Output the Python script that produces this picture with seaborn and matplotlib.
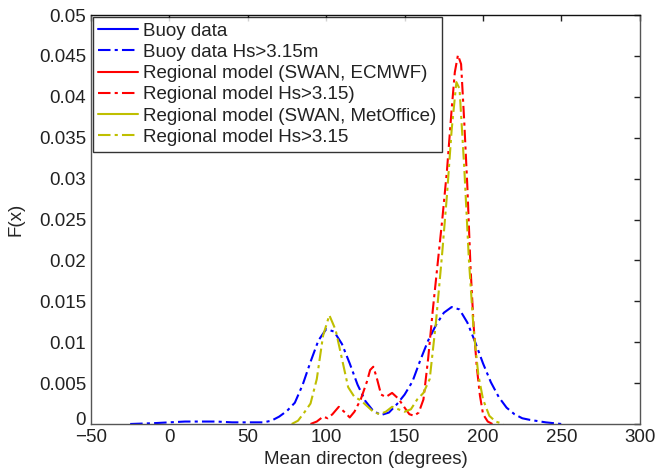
import seaborn as sns
import matplotlib.pyplot as plt
import matplotlib.transforms as mtransforms
import pandas as pd

# buoy data Hs>3.15m (blue dash-dot)
buoy_x = [-25, -10, 0, 10, 20, 30, 40, 50, 60, 65, 70, 75, 80, 85, 90, 95, 100,
          105, 110, 115, 120, 125, 130, 135, 140, 145, 150, 155, 160, 165, 170,
          175, 180, 185, 190, 195, 200, 205, 210, 215, 220, 225, 230, 240, 250]
buoy_y = [0, 0.0001, 0.0002, 0.0003, 0.0003, 0.0003, 0.0002, 0.0002, 0.0002,
          0.0004, 0.0009, 0.0016, 0.0026, 0.0048, 0.0076, 0.0102, 0.0116,
          0.0113, 0.0098, 0.0074, 0.0048, 0.0028, 0.0016, 0.0011, 0.0014,
          0.0024, 0.0036, 0.0052, 0.0078, 0.0102, 0.0121, 0.0136, 0.0143,
          0.0140, 0.0124, 0.0100, 0.0074, 0.0051, 0.0033, 0.0020, 0.0012,
          0.0007, 0.0005, 0.0002, 0]

# regional model SWAN/ECMWF Hs>3.15 (red dash-dot)
ecmwf_x = [90, 94, 98, 101, 104, 108, 112, 115, 118, 122, 126, 128, 130, 132,
           135, 138, 142, 146, 150, 153, 156, 159, 162, 165, 168, 171, 174, 177,
           180, 182, 184, 186, 188, 190, 192, 194, 196, 198, 200, 203, 206]
ecmwf_y = [0, 0.0003, 0.0009, 0.0007, 0.0012, 0.0021, 0.0014, 0.0008, 0.0015,
           0.0030, 0.0052, 0.0066, 0.0070, 0.0058, 0.0036, 0.0033, 0.0038,
           0.0031, 0.0020, 0.0012, 0.0010, 0.0014, 0.0030, 0.0080, 0.0140,
           0.0195, 0.0250, 0.0310, 0.0385, 0.0430, 0.0451, 0.0440, 0.0370,
           0.0290, 0.0192, 0.0120, 0.0070, 0.0035, 0.0012, 0.0003, 0]

# regional model SWAN/MetOffice Hs>3.15 (yellow dash-dot)
metoff_x = [78, 82, 86, 90, 94, 98, 102, 106, 110, 114, 118, 122, 126, 130, 134,
            138, 142, 146, 150, 154, 158, 162, 166, 170, 174, 177, 180, 183, 185,
            188, 191, 194, 197, 200, 204, 208, 213]
metoff_y = [0, 0.0004, 0.0014, 0.0025, 0.0055, 0.0108, 0.0133, 0.0115, 0.0080,
            0.0045, 0.0033, 0.0029, 0.0022, 0.0015, 0.0012, 0.0015, 0.0021,
            0.0018, 0.0015, 0.0018, 0.0030, 0.0038, 0.0055, 0.0125, 0.0210,
            0.0280, 0.0360, 0.0418, 0.0410, 0.0314, 0.0200, 0.0115, 0.0060,
            0.0030, 0.0010, 0.0003, 0]

labels = ['Buoy data', 'Buoy data Hs>3.15m', 'Regional model (SWAN, ECMWF)',
          'Regional model Hs>3.15)', 'Regional model (SWAN, MetOffice)',
          'Regional model Hs>3.15']

sns.set_style('white')
plt.rcParams['font.family'] = ['Liberation Sans', 'DejaVu Sans']
plt.rcParams['text.color'] = '#222222'
plt.rcParams['xtick.color'] = '#222222'
plt.rcParams['ytick.color'] = '#222222'

blue, red, yel = '#0000ff', '#ff0000', '#bfbf00'
dashdot = (0, (6, 2, 1.5, 2))

fig = plt.figure(figsize=(6.59, 4.72), dpi=100)
ax = fig.add_axes([0.138, 0.1017, 0.833, 0.8665])

# solid series only appear in the legend
ax.plot([], [], color=blue, lw=1.5, label=labels[0])
sns.lineplot(x=buoy_x, y=buoy_y, ax=ax, color=blue, lw=1.5, linestyle=dashdot, label=labels[1])
ax.plot([], [], color=red, lw=1.5, label=labels[2])
sns.lineplot(x=ecmwf_x, y=ecmwf_y, ax=ax, color=red, lw=1.5, linestyle=dashdot, label=labels[3])
ax.plot([], [], color=yel, lw=1.5, label=labels[4])
sns.lineplot(x=metoff_x, y=metoff_y, ax=ax, color=yel, lw=1.5, linestyle=dashdot, label=labels[5])

ax.set_xlim(-50, 300)
ax.set_ylim(0, 0.05)
ax.set_xticks(range(-50, 301, 50))
ax.set_yticks([i * 0.005 for i in range(11)])
ax.set_yticklabels(['0', '0.005', '0.01', '0.015', '0.02', '0.025', '0.03',
                    '0.035', '0.04', '0.045', '0.05'])
ax.tick_params(direction='in', length=4, top=True, right=True, labelsize=13.5,
               width=1, color='#222222')
for s in ax.spines.values():
    s.set_color('#555555')
    s.set_linewidth(1)
ax.spines['top'].set_color('#111111')

# lift the y "0" a little so it sits above "-50" like the original
lbl0 = ax.get_yticklabels()[0]
lbl0.set_transform(lbl0.get_transform() +
                   mtransforms.ScaledTranslation(0, 4 / 72, fig.dpi_scale_trans))

ax.set_xlabel('Mean directon (degrees)', fontsize=13.5, labelpad=4)
ax.set_ylabel('F(x)', fontsize=13.5, labelpad=10)

leg = ax.legend(loc='upper left', fontsize=13.5, handlelength=2.1, frameon=True,
                fancybox=False, borderaxespad=0.1, labelspacing=0.22,
                handletextpad=0.3, borderpad=0.3)
leg.get_frame().set_edgecolor('black')
leg.get_frame().set_linewidth(1)

fig.savefig('out.png', dpi=100)
